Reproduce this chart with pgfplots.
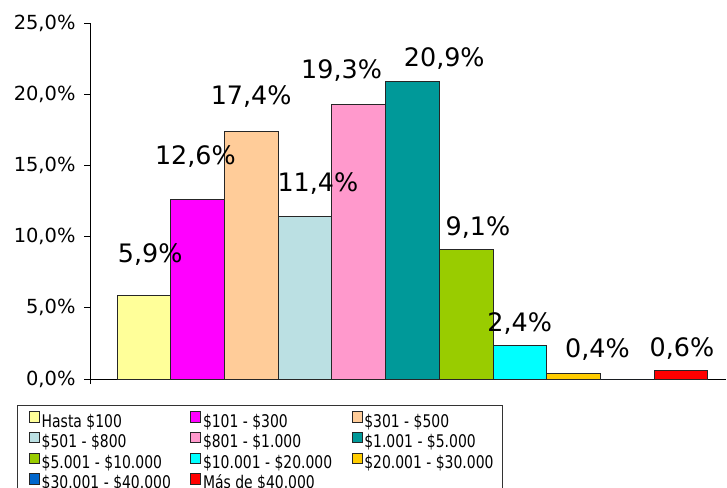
\documentclass[border=0pt]{standalone}
\usepackage{pgfplots}
\pgfplotsset{compat=1.18}
\usepackage{fontspec}
\setmainfont{DejaVu Sans}
\newfontfamily\legfont[FakeStretch=0.8]{DejaVu Sans}
\definecolor{c1}{HTML}{FFFF99}
\definecolor{c2}{HTML}{FF00FF}
\definecolor{c3}{HTML}{FFCC99}
\definecolor{c4}{HTML}{BBE0E3}
\definecolor{c5}{HTML}{FF99CC}
\definecolor{c6}{HTML}{009999}
\definecolor{c7}{HTML}{99CC00}
\definecolor{c8}{HTML}{00FFFF}
\definecolor{c9}{HTML}{FFCC00}
\definecolor{c10}{HTML}{0066CC}
\definecolor{c11}{HTML}{FF0000}
\pgfplotsset{
  mybar/.style n args={3}{ybar, bar width=1, bar shift=0pt, fill=#1, draw=black!85, line width=0.6bp,
     nodes near coords, point meta=explicit symbolic,
     every node near coord/.append style={anchor=center, xshift=#2bp, yshift=#3bp,
        font=\fontsize{25.5}{26}\selectfont, text=black}},
}
\begin{document}
\begin{tikzpicture}
\path[use as bounding box] (0bp,0bp) rectangle (727bp,488bp);
\begin{axis}[
  at={(90bp,109bp)}, anchor=south west,
  scale only axis, width=636bp, height=356bp,
  xmin=-1, xmax=10.84, ymin=0, ymax=25,
  axis x line*=bottom, axis y line*=left,
  axis line style={black, line width=0.8bp},
  y axis line style={shorten <=-5bp},
  xtick=\empty,
  ytick={0,5,10,15,20,25},
  yticklabels={{0,0\%},{5,0\%},{10,0\%},{15,0\%},{20,0\%},{25,0\%}},
  tick align=outside, major tick length=6bp,
  ytick style={black, line width=0.8bp},
  yticklabel style={font=\fontsize{19.5}{21}\selectfont, xshift=-5bp},
  /pgf/number format/assume math mode=true,
  clip=false,
  legend columns=3,
  legend cell align=left,
  legend image code/.code={\path[draw=none,fill=none] (0bp,0bp) rectangle (1bp,1bp);\draw[#1, line width=0.6bp] (8bp,0.5bp) rectangle (18bp,11bp);},
  legend style={at={(-0.11478,-0.07303)}, anchor=north west, draw=black!80, line width=0.8bp,
    inner xsep=4bp, inner ysep=6bp, font=\legfont\fontsize{17.5}{18}\selectfont,
    nodes={inner sep=0pt, text height=13bp, text depth=4bp},
    row sep=0.8bp,
    /tikz/every odd column/.append style={column sep=2bp},
    /tikz/every even column/.append style={column sep=0bp}},
]
\addplot[mybar={c1}{6.5}{40.5}] coordinates {(0,5.9) [5,9\%]};
\addlegendentry{\makebox[141bp][l]{Hasta \$100}}
\addplot[mybar={c2}{-2}{43}] coordinates {(1,12.6) [12,6\%]};
\addlegendentry{\makebox[141bp][l]{\$101 - \$300}}
\addplot[mybar={c3}{0}{35}] coordinates {(2,17.4) [17,4\%]};
\addlegendentry{\makebox[134bp][l]{\$301 - \$500}}
\addplot[mybar={c4}{13}{33}] coordinates {(3,11.4) [11,4\%]};
\addlegendentry{\makebox[141bp][l]{\$501 - \$800}}
\addplot[mybar={c5}{-17}{34}] coordinates {(4,19.3) [19,3\%]};
\addlegendentry{\makebox[141bp][l]{\$801 - \$1.000}}
\addplot[mybar={c6}{32}{22.5}] coordinates {(5,20.9) [20,9\%]};
\addlegendentry{\makebox[134bp][l]{\$1.001 - \$5.000}}
\addplot[mybar={c7}{12}{22}] coordinates {(6,9.1) [9,1\%]};
\addlegendentry{\makebox[141bp][l]{\$5.001 - \$10.000}}
\addplot[mybar={c8}{0}{21}] coordinates {(7,2.4) [2,4\%]};
\addlegendentry{\makebox[141bp][l]{\$10.001 - \$20.000}}
\addplot[mybar={c9}{24}{24}] coordinates {(8,0.4) [0,4\%]};
\addlegendentry{\makebox[134bp][l]{\$20.001 - \$30.000}}
\addplot[ybar, bar width=1, bar shift=0pt, fill=c10, draw=black!85, line width=0.6bp] coordinates {(9,0)};
\addlegendentry{\makebox[141bp][l]{\$30.001 - \$40.000}}
\addplot[mybar={c11}{1}{22}] coordinates {(10,0.6) [0,6\%]};
\addlegendentry{\makebox[141bp][l]{Más de \$40.000}}
\end{axis}
\end{tikzpicture}
\end{document}
